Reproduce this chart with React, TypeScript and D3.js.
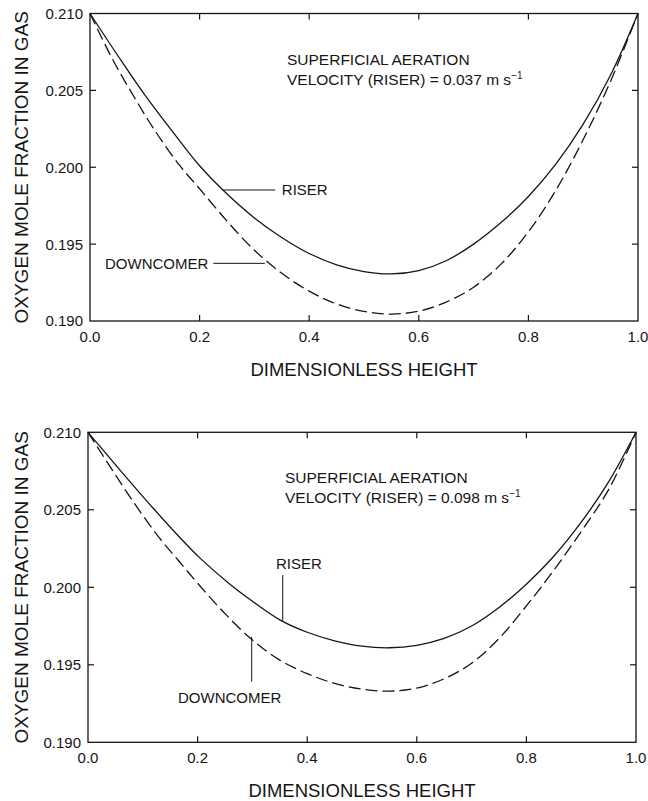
import React from 'react';
import * as d3 from 'd3';

// ---- data ----
const xTicks = [0, 0.2, 0.4, 0.6, 0.8, 1.0];
const yTicks = [0.19, 0.195, 0.2, 0.205, 0.21];

const topRiserX = [0, 0.05, 0.1, 0.164, 0.2, 0.243, 0.3, 0.347, 0.4, 0.45, 0.5, 0.55, 0.6, 0.65, 0.7, 0.75, 0.8, 0.85, 0.9, 0.95, 1.0];
const topRiserV = [0.21, 0.2073, 0.2047, 0.2017, 0.2001, 0.1985, 0.1967, 0.1955, 0.19439, 0.19365, 0.19321, 0.19306, 0.19328, 0.19392, 0.195, 0.1964, 0.1981, 0.2002, 0.2028, 0.206, 0.21];

const topDownX = [0, 0.04, 0.08, 0.12, 0.164, 0.2, 0.25, 0.3, 0.35, 0.4, 0.45, 0.5, 0.55, 0.6, 0.65, 0.7, 0.75, 0.8, 0.85, 0.9, 0.95, 1.0];
const topDownV = [0.21, 0.2071, 0.2046, 0.2023, 0.2001, 0.1986, 0.1965, 0.1946, 0.1931, 0.19194, 0.19111, 0.19062, 0.19045, 0.19064, 0.19123, 0.1922, 0.1937, 0.1958, 0.1985, 0.2018, 0.2056, 0.21];

const botRiserX = [0, 0.06, 0.119, 0.168, 0.204, 0.259, 0.3, 0.35, 0.4, 0.45, 0.5, 0.55, 0.6, 0.65, 0.7, 0.75, 0.8, 0.85, 0.9, 0.95, 1.0];
const botRiserV = [0.21, 0.2075, 0.2051, 0.2032, 0.2019, 0.2002, 0.1991, 0.1979, 0.1971, 0.19655, 0.1962, 0.1961, 0.19626, 0.1967, 0.1975, 0.1987, 0.2002, 0.202, 0.2042, 0.2068, 0.21];

const botDownX = [0, 0.04, 0.083, 0.13, 0.168, 0.204, 0.25, 0.3, 0.35, 0.4, 0.45, 0.5, 0.55, 0.6, 0.65, 0.7, 0.75, 0.8, 0.85, 0.9, 0.95, 1.0];
const botDownV = [0.21, 0.2078, 0.2055, 0.2032, 0.2016, 0.2001, 0.1983, 0.1966, 0.1953, 0.19443, 0.1938, 0.19343, 0.1933, 0.1935, 0.1941, 0.1951, 0.1967, 0.1988, 0.2011, 0.2036, 0.2063, 0.21];

const velocities = ['0.037', '0.098'];

const INK = '#151515';
const FONT = '"Liberation Sans", Arial, Helvetica, sans-serif';

type Box = { left: number; right: number; top: number; bottom: number };

function Panel(props: {
  box: Box;
  riserX: number[]; riserV: number[];
  downX: number[]; downV: number[];
  velocity: string;
  variant: 'horizontal' | 'vertical';
}) {
  const { box, riserX, riserV, downX, downV, velocity, variant } = props;
  const x = d3.scaleLinear().domain([0, 1]).range([box.left, box.right]);
  const y = d3.scaleLinear().domain([0.19, 0.21]).range([box.bottom, box.top]);
  const line = d3.line<[number, number]>()
    .x(d => x(d[0])).y(d => y(d[1]))
    .curve(d3.curveCatmullRom.alpha(0.5));
  const riserPts = riserX.map((v, i) => [v, riserV[i]] as [number, number]);
  const downPts = downX.map((v, i) => [v, downV[i]] as [number, number]);
  const tl = 6;
  const cy = (box.top + box.bottom) / 2;
  const cx = (box.left + box.right) / 2;

  return (
    <g>
      <rect x={box.left} y={box.top} width={box.right - box.left} height={box.bottom - box.top}
        fill="none" stroke={INK} strokeWidth={1.3} />
      {xTicks.slice(1, -1).map(t => (
        <g key={'xt' + t}>
          <line x1={x(t)} x2={x(t)} y1={box.bottom} y2={box.bottom - tl} stroke={INK} strokeWidth={1.2} />
          <line x1={x(t)} x2={x(t)} y1={box.top} y2={box.top + tl} stroke={INK} strokeWidth={1.2} />
        </g>
      ))}
      {yTicks.slice(1, -1).map(t => (
        <g key={'yt' + t}>
          <line x1={box.left} x2={box.left + tl} y1={y(t)} y2={y(t)} stroke={INK} strokeWidth={1.2} />
          <line x1={box.right} x2={box.right - tl} y1={y(t)} y2={y(t)} stroke={INK} strokeWidth={1.2} />
        </g>
      ))}
      {xTicks.map(t => (
        <text key={'xl' + t} x={x(t)} y={box.bottom + 21} textAnchor="middle" fontSize={15} fill={INK} fontFamily={FONT}>
          {t.toFixed(1)}
        </text>
      ))}
      {yTicks.map(t => (
        <text key={'yl' + t} x={box.left - 7} y={y(t)} dy="0.36em" textAnchor="end" fontSize={15} fill={INK} fontFamily={FONT}>
          {t.toFixed(3)}
        </text>
      ))}
      <text x={cx} y={box.bottom + 55} textAnchor="middle" fontSize={18.5} fill={INK} fontFamily={FONT}>
        DIMENSIONLESS HEIGHT
      </text>
      <text transform={`translate(28,${cy}) rotate(-90)`} textAnchor="middle" fontSize={19} fill={INK} fontFamily={FONT}>
        OXYGEN MOLE FRACTION IN GAS
      </text>

      <path d={line(riserPts) || ''} fill="none" stroke={INK} strokeWidth={1.3} />
      <path d={line(downPts) || ''} fill="none" stroke={INK} strokeWidth={1.3} strokeDasharray="12,5" />

      <text x={box.left + 197} y={box.top + 51} fontSize={15.5} fill={INK} fontFamily={FONT}>
        SUPERFICIAL AERATION
      </text>
      <text x={box.left + 197} y={box.top + 71} fontSize={15.5} fill={INK} fontFamily={FONT}>
        VELOCITY (RISER) = {velocity} m s<tspan fontSize={10} dy={-6}>−1</tspan>
      </text>

      {variant === 'horizontal' ? (
        <g>
          <line x1={x(0.243)} x2={x(0.338)} y1={y(0.19852)} y2={y(0.19852)} stroke={INK} strokeWidth={1} />
          <text x={x(0.35)} y={y(0.19852)} dy="0.36em" fontSize={15} fill={INK} fontFamily={FONT}>RISER</text>
          <line x1={x(0.225)} x2={x(0.319)} y1={y(0.19375)} y2={y(0.19375)} stroke={INK} strokeWidth={1} />
          <text x={x(0.216)} y={y(0.19375)} dy="0.36em" textAnchor="end" fontSize={15} fill={INK} fontFamily={FONT}>DOWNCOMER</text>
        </g>
      ) : (
        <g>
          <line x1={x(0.3553)} x2={x(0.3553)} y1={y(0.20079)} y2={y(0.19785)} stroke={INK} strokeWidth={1} />
          <text x={x(0.343)} y={y(0.20116)} fontSize={15} fill={INK} fontFamily={FONT}>RISER</text>
          <line x1={x(0.2987)} x2={x(0.2987)} y1={y(0.19681)} y2={y(0.19391)} stroke={INK} strokeWidth={1} />
          <text x={x(0.1642)} y={y(0.19256)} fontSize={15} fill={INK} fontFamily={FONT}>DOWNCOMER</text>
        </g>
      )}
    </g>
  );
}

export default function App() {
  return (
    <svg width={648} height={801} style={{ position: 'absolute', left: 0, top: 0, background: '#fff' }}>
      <rect x={0} y={0} width={648} height={801} fill="#fff" />
      <Panel box={{ left: 90, right: 638, top: 13.5, bottom: 321 }}
        riserX={topRiserX} riserV={topRiserV} downX={topDownX} downV={topDownV}
        velocity={velocities[0]} variant="horizontal" />
      <Panel box={{ left: 88, right: 636, top: 432.3, bottom: 742.3 }}
        riserX={botRiserX} riserV={botRiserV} downX={botDownX} downV={botDownV}
        velocity={velocities[1]} variant="vertical" />
    </svg>
  );
}
